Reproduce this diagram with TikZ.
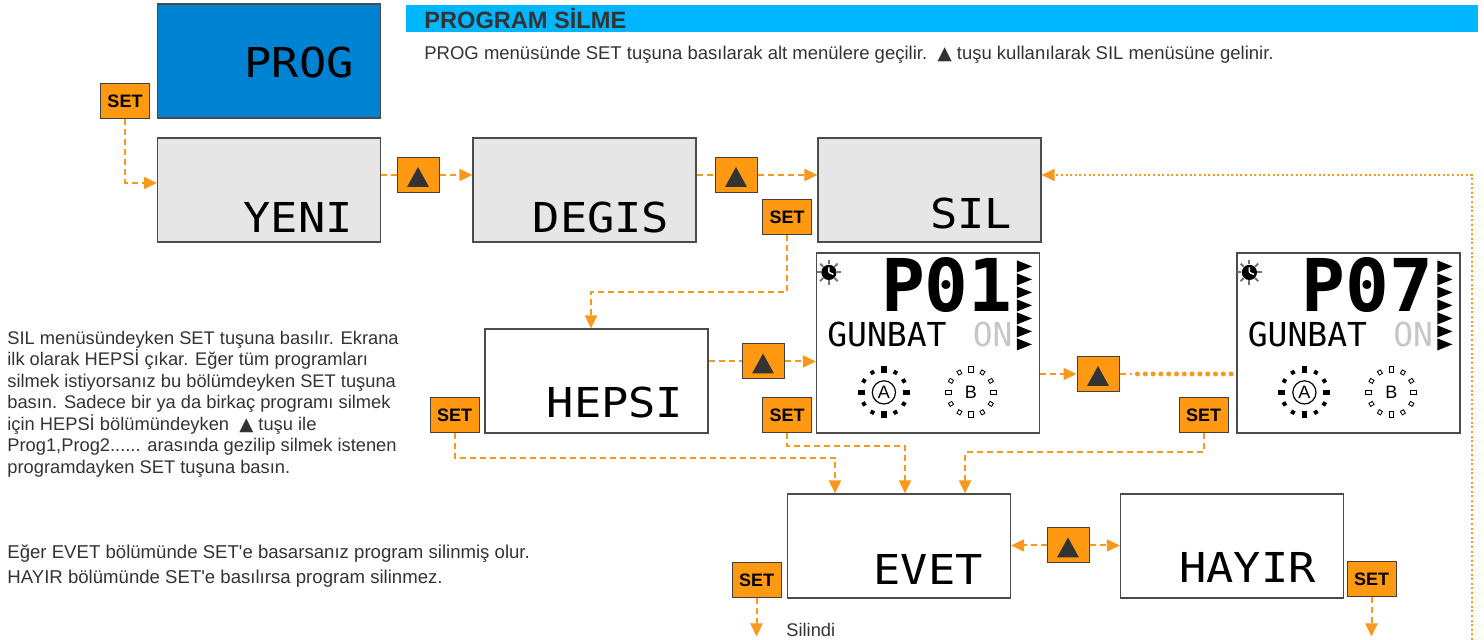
\documentclass[tikz,border=0pt]{standalone}
\usepackage{fontspec}
\setmainfont{Liberation Sans}
\newfontfamily\lcdfont[FakeStretch=1.1]{DejaVu Sans Mono}
\newfontfamily\lcdbig{DejaVu Sans Mono}
\newfontfamily\symfont{DejaVu Sans}
\usetikzlibrary{arrows.meta,calc}
\definecolor{btnorange}{HTML}{FF9912}
\definecolor{lineorange}{HTML}{F8981D}
\definecolor{headcyan}{HTML}{00B7FF}
\definecolor{progblue}{HTML}{0082D2}
\definecolor{lcdgray}{HTML}{E6E6E6}
\definecolor{txtgray}{HTML}{333333}

\newcommand{\progpanel}[2]{%
	\begin{scope}[shift={(#1.north west)}]
		\foreach \a in {0,45,...,315}
			\draw[black!55, line width=1pt] ([shift={(13,20)}]\a:4pt) -- ([shift={(13,20)}]\a:6.2pt);
		\fill (13,20) circle (3.8pt);
		\draw[white, line width=0.7pt] (13,20) -- ++(0,-5) (13,20) -- ++(4.5,2);
		\node[anchor=base east, text depth=0pt, font=\lcdbig\bfseries\fontsize{36.4}{36.4}\selectfont] (#1-num) at (197,59) {#2};
		\foreach \i in {0,...,6}
			\fill (201,{8+13*\i}) -- ++(15,6) -- ++(-15,6) -- cycle;
		\node[anchor=base west, font=\lcdbig\fontsize{16.5}{16.5}\selectfont] (#1-day) at (11,94) {GUNBAT};
		\node[anchor=base east, font=\lcdbig\fontsize{16.5}{16.5}\selectfont, text=black!22] (#1-on) at (197,94) {ON};
		\foreach \a in {0,90,180,270}
			\draw[line width=2.6pt] ([shift={(68,140)}]\a:9.5pt) -- ([shift={(68,140)}]\a:13pt);
		\foreach \a in {30,60,120,150,210,240,300,330}
			\draw[line width=2pt] ([shift={(68,140)}]\a:10.5pt) -- ([shift={(68,140)}]\a:12.5pt);
		\draw[line width=0.6pt] (68,140) circle (5.8pt);
		\node[font=\fontsize{9}{9}\selectfont] (#1-a) at (68,140) {A};
		\foreach \a in {0,90,180,270} {
			\draw[line width=2.8pt] ([shift={(155,140)}]\a:9.5pt) -- ([shift={(155,140)}]\a:13pt);
			\draw[white, line width=1.8pt] ([shift={(155,140)}]\a:10pt) -- ([shift={(155,140)}]\a:12.5pt);
		}
		\foreach \a in {30,60,120,150,210,240,300,330} {
			\draw[line width=2.2pt] ([shift={(155,140)}]\a:10.3pt) -- ([shift={(155,140)}]\a:12.7pt);
			\draw[white, line width=1.2pt] ([shift={(155,140)}]\a:10.8pt) -- ([shift={(155,140)}]\a:12.2pt);
		}
		\node[font=\fontsize{9}{9}\selectfont] (#1-b) at (155,140) {B};
	\end{scope}}

\begin{document}
\begin{tikzpicture}[
		x=0.5pt, y=-0.5pt,
		every node/.style={inner sep=0pt},
		screen/.style={draw=black!70, line width=0.6pt, fill=white, minimum width=111.5pt, minimum height=52pt},
		menu/.style={screen, fill=lcdgray},
		panel/.style={screen, minimum height=90pt},
		setkey/.style={draw=black!75, line width=0.5pt, fill=btnorange, minimum width=24.5pt, minimum height=17.5pt, font=\fontsize{9}{9}\selectfont\bfseries},
		upkey/.style={draw=black!75, line width=0.5pt, fill=btnorange, minimum width=21pt, minimum height=17.5pt,
			path picture={\fill[txtgray] ($(path picture bounding box.center)+(-5.5pt,-6pt)$) -- ++(11pt,0) -- ++(-5.5pt,10pt) -- cycle;}},
		lcd/.style={font=\lcdfont\fontsize{20.6}{20.6}\selectfont, anchor=base east},
		note/.style={font={\fontsize{9.15}{10.75}\selectfont\lineskiplimit-20pt\relax}, text=txtgray, align=left, anchor=north west},
		flow/.style={draw=lineorange, line width=1pt, dash pattern=on 3pt off 2pt, -{Triangle[length=6.5pt,width=6pt]}},
		link/.style={flow, -},
		backline/.style={draw=lineorange, line width=1pt, dash pattern=on 1pt off 1.3pt, -{Triangle[length=6.5pt,width=6pt]}},
		dots/.style={draw=lineorange, line width=2.5pt, line cap=round, dash pattern=on 0pt off 3.9pt}
		]
		\useasboundingbox (0,0) rectangle (1484,640);

		\node[fill=headcyan, minimum width=536pt, minimum height=13.5pt, anchor=north west] (bar) at (406,5) {};
		\node[font=\fontsize{11.8}{11.8}\selectfont\bfseries, text=txtgray, anchor=base west] (title) at (424,29) {PROGRAM SİLME};
		\node[note, anchor=base west, font=\fontsize{9.25}{9.25}\selectfont] (intro) at (424,60) {PROG menüsünde SET tuşuna basılarak alt menülere geçilir.\ \ {\symfont ▲} tuşu kullanılarak SIL menüsüne gelinir.};

		\node[screen, fill=progblue, minimum height=57pt] (prog) at (269,61) {};
		\node[lcd] (prog-txt) at ($(prog.south east)+(-27,-41)$) {PROG};
		\node[setkey] (setProg) at (125,101.5) {SET};

		\node[menu] (yeni) at (269,190) {};
		\node[lcd] (yeni-txt) at ($(yeni.south east)+(-28,-10)$) {YENI};
		\node[upkey] (up1) at (418,175) {};
		\node[menu] (degis) at (584.5,190) {};
		\node[lcd] (degis-txt) at ($(degis.south east)+(-27,-10)$) {DEGIS};
		\node[upkey] (up2) at (736,175) {};
		\node[menu] (sil) at (929.5,190) {};
		\node[lcd] (sil-txt) at ($(sil.south east)+(-29,-14)$) {SIL};
		\node[setkey] (setSil) at (787,217.5) {SET};

		\node[screen] (hepsi) at (596.5,381) {};
		\node[lcd] (hepsi-txt) at ($(hepsi.south east)+(-25,-16)$) {HEPSI};
		\node[setkey] (setHepsi) at (454.5,415) {SET};
		\node[upkey] (up3) at (763,361.5) {};
		\node[panel] (p01) at (928,343) {};
		\progpanel{p01}{P01}
		\node[setkey] (setP01) at (787,415) {SET};
		\node[upkey] (up4) at (1098,374) {};
		\node[panel] (p07) at (1348.5,343) {};
		\progpanel{p07}{P07}
		\node[setkey] (setP07) at (1203.5,415.5) {SET};

		\node[screen] (evet) at (899,546) {};
		\node[lcd] (evet-txt) at ($(evet.south east)+(-28,-14)$) {EVET};
		\node[upkey] (upE) at (1068,545.5) {};
		\node[screen] (hayir) at (1232,546) {};
		\node[lcd] (hayir-txt) at ($(hayir.south east)+(-28,-16)$) {HAYIR};
		\node[setkey] (setEvet) at (756.5,580.5) {SET};
		\node[setkey] (setHayir) at (1371.5,579.5) {SET};
		\node[note, anchor=base west] (silindi) at (786,637) {Silindi};

		\node[note] (silnote) at (7,330.5) {SIL menüsündeyken SET tuşuna basılır. Ekrana\\
			ilk olarak HEPSİ çıkar. Eğer tüm programları\\
			silmek istiyorsanız bu bölümdeyken SET tuşuna\\
			basın. Sadece bir ya da birkaç programı silmek\\
			için HEPSİ bölümündeyken\ \ {\symfont ▲} tuşu ile\\
			Prog1,Prog2...... arasında gezilip silmek istenen\\
			programdayken SET tuşuna basın.};
		\node[note, font={\fontsize{9.3}{12.5}\selectfont\lineskiplimit-20pt\relax}] (evetnote) at (7,544) {Eğer EVET bölümünde SET\textquotesingle e basarsanız program silinmiş olur.\\
			HAYIR bölümünde SET\textquotesingle e basılırsa program silinmez.};

		\draw[flow] (setProg.south) |- ([yshift=3.5pt]yeni.west);
		\draw[link] (yeni.east |- up1) -- (up1.west);
		\draw[flow] (up1.east) -- (degis.west |- up1);
		\draw[link] (degis.east |- up2) -- (up2.west);
		\draw[flow] (up2.east) -- (sil.west |- up2);
		\draw[flow] (setSil.south) -- ++(0,57) -| ([xshift=-2.75pt]hepsi.north);
		\draw[link] (hepsi.east |- up3) -- (up3.west);
		\draw[flow] (up3.east) -- (p01.west |- up3);
		\draw[flow] (p01.east |- up4) -- (up4.west);
		\draw[link] (up4.east) -- ++(12,0) coordinate (dotStart);
		\draw[dots] ([xshift=3pt]dotStart) -- ([xshift=-2pt]p07.west |- up4);
		\draw[flow] (setHepsi.south) -- ++(0,25) -| ([xshift=-32pt]evet.north);
		\draw[flow] (setP01.south) -- ++(0,13) -| ([xshift=3pt]evet.north);
		\draw[flow] (setP07.south) -- ++(0,19) -| ([xshift=33pt]evet.north);
		\draw[flow] (upE.west) -- (evet.east |- upE);
		\draw[flow] (upE.east) -- (hayir.west |- upE);
		\draw[flow] (setEvet.south) -- ++(0,38);
		\draw[flow] (setHayir.south) -- ++(0,39);
		\coordinate (backStart) at (1472,640);
		\draw[backline] (backStart) |- ([yshift=7.5pt]sil.east);
\end{tikzpicture}
\end{document}
